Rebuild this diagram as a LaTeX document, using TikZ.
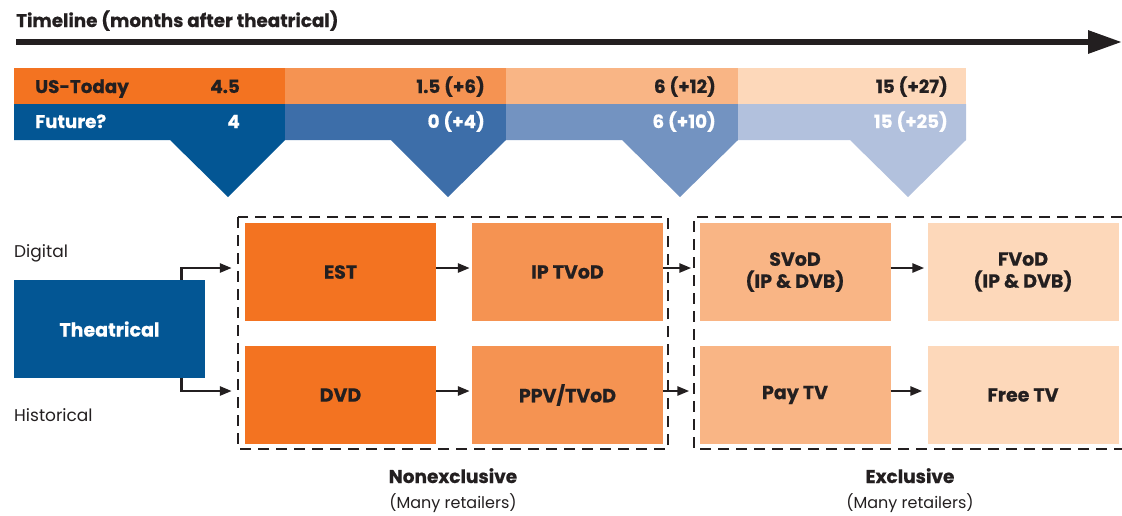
\documentclass[tikz,border=0pt]{standalone}
\usepackage{fontspec}
\setmainfont{Poppins}[BoldFeatures={FakeBold=0.6}]
\usetikzlibrary{arrows.meta}
\definecolor{ink}{HTML}{231F20}
\definecolor{orA}{HTML}{F37321}
\definecolor{orB}{HTML}{F59352}
\definecolor{orC}{HTML}{F9B585}
\definecolor{orD}{HTML}{FDD8BA}
\definecolor{blA}{HTML}{035694}
\definecolor{blB}{HTML}{3D6EA9}
\definecolor{blC}{HTML}{7393C1}
\definecolor{blD}{HTML}{B2C1DD}
\begin{document}
\begin{tikzpicture}[x=1pt,y=-1pt,
  bandtxt/.style={font=\bfseries\fontsize{18.3}{20}\selectfont, inner sep=0},
  stagebox/.style={minimum width=191pt, minimum height=98pt, inner sep=0, align=center,
    font=\bfseries\fontsize{19}{22}\selectfont, text=ink},
  conn/.style={draw=ink, line width=2.6pt, -{Triangle[length=12pt,width=9pt]}},
  dashbox/.style={draw=ink, line width=2.8pt, dash pattern=on 11pt off 7pt},
  sidelbl/.style={font=\fontsize{17}{19}\selectfont, text=ink, inner sep=0, anchor=base west},
  grouplbl/.style={font=\bfseries\fontsize{18.5}{20}\selectfont, text=ink, inner sep=0, anchor=base},
  subgrouplbl/.style={font=\fontsize{16}{19}\selectfont, text=ink, inner sep=0, anchor=base}]
\useasboundingbox (0,0) rectangle (1122,515);

% timeline header
\node[anchor=base west, inner sep=0, text=ink, font=\bfseries\fontsize{18.3}{20}\selectfont]
  (title) at (16,27) {Timeline (months after theatrical)};
\coordinate (tlstart) at (16,42);
\coordinate (tlend) at (1122,42);
\draw[ink, line width=6pt, -{Triangle[length=34pt,width=22pt]}] (tlstart) -- (tlend);

% US-Today band
\fill[orA] (14,68) rectangle (285,104);
\fill[orB] (285,68) rectangle (506,104);
\fill[orC] (506,68) rectangle (738,104);
\fill[orD] (738,68) rectangle (966,104);

% Future band with pointers
\fill[blA] (14,104) -- (285,104) -- (285,140) -- (228,197) -- (170,140) -- (14,140) -- cycle;
\fill[blB] (285,104) -- (506,104) -- (506,140) -- (448,197) -- (391,140) -- (285,140) -- cycle;
\fill[blC] (506,104) -- (738,104) -- (738,140) -- (680,197) -- (622,140) -- (506,140) -- cycle;
\fill[blD] (738,104) -- (966,104) -- (966,140) -- (908,197) -- (850,140) -- (738,140) -- cycle;

\node[bandtxt, text=ink, anchor=base west] (uslbl) at (35,93) {US-Today};
\node[bandtxt, text=ink, anchor=base east] (us1) at (240,93) {4.5};
\node[bandtxt, text=ink, anchor=base east] (us2) at (485,93) {1.5 (+6)};
\node[bandtxt, text=ink, anchor=base east] (us3) at (716,93) {6 (+12)};
\node[bandtxt, text=ink, anchor=base east] (us4) at (948,93) {15 (+27)};

\node[bandtxt, text=white, anchor=base west] (fulbl) at (35,128) {Future?};
\node[bandtxt, text=white, anchor=base east] (fu1) at (240,128) {4};
\node[bandtxt, text=white, anchor=base east] (fu2) at (485,128) {0 (+4)};
\node[bandtxt, text=white, anchor=base east] (fu3) at (716,128) {6 (+10)};
\node[bandtxt, text=white, anchor=base east] (fu4) at (948,128) {15 (+25)};

% windows
\node[stagebox, fill=blA, text=white] (theat) at (109.5,329) {Theatrical};
\node[stagebox, fill=orA] (est) at (340.5,272) {EST};
\node[stagebox, fill=orB] (ipt) at (567.5,272) {IP TVoD};
\node[stagebox, fill=orC] (svod) at (795,272) {SVoD\\(IP \& DVB)};
\node[stagebox, fill=orD] (fvod) at (1023,272) {FVoD\\(IP \& DVB)};
\node[stagebox, fill=orA] (dvd) at (340.5,395) {DVD};
\node[stagebox, fill=orB] (ppv) at (567.5,395) {PPV/TVoD};
\node[stagebox, fill=orC] (paytv) at (795,395) {Pay TV};
\node[stagebox, fill=orD] (freetv) at (1023,395) {Free TV};

\node[sidelbl] (digital) at (14,257) {Digital};
\node[sidelbl] (historical) at (14,421) {Historical};

% groupings
\draw[dashbox] (238,217) rectangle (668,449);
\draw[dashbox] (1122,217) -| (694,449) -- (1122,449);
\node[grouplbl] (nonex) at (453,483) {Nonexclusive};
\node[subgrouplbl] (nonexsub) at (453,508) {(Many retailers)};
\node[grouplbl] (excl) at (910,483) {Exclusive};
\node[subgrouplbl] (exclsub) at (910,508) {(Many retailers)};

% flows
\draw[conn] ([xshift=-24pt]theat.north east) |- ([xshift=-13pt,yshift=4pt]est.west);
\draw[conn] ([xshift=-24pt]theat.south east) |- ([xshift=-13pt,yshift=4pt]dvd.west);
\draw[conn] ([yshift=4pt]est.east) -- ([xshift=-2pt,yshift=4pt]ipt.west);
\draw[conn] ([yshift=4pt]ipt.east) -- ([xshift=-8pt,yshift=4pt]svod.west);
\draw[conn] ([yshift=4pt]svod.east) -- ([xshift=-3pt,yshift=4pt]fvod.west);
\draw[conn] ([yshift=4pt]dvd.east) -- ([xshift=-2pt,yshift=4pt]ppv.west);
\draw[conn] ([yshift=4pt]ppv.east) -- ([xshift=-10pt,yshift=4pt]paytv.west);
\draw[conn] ([yshift=4pt]paytv.east) -- ([xshift=-5pt,yshift=4pt]freetv.west);
\end{tikzpicture}
\end{document}
